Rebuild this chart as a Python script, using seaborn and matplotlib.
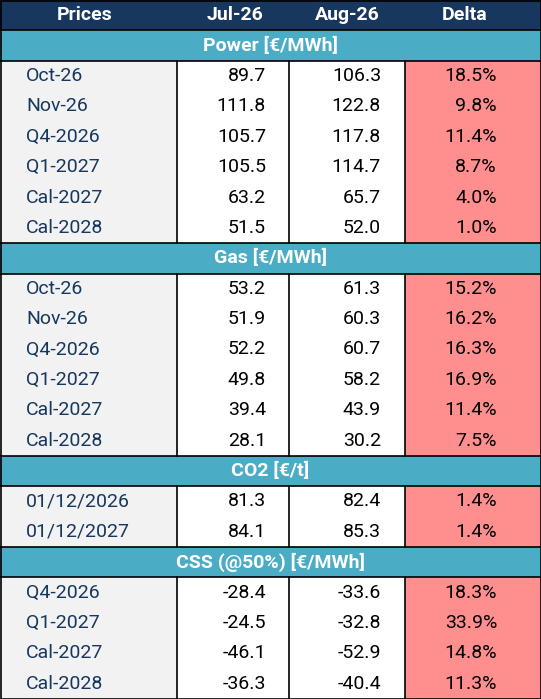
import matplotlib
matplotlib.use("Agg")
import matplotlib.pyplot as plt
import seaborn as sns
from matplotlib.patches import Rectangle

sns.set_theme(style="white")
plt.rcParams['font.family'] = ['Roboto', 'DejaVu Sans']

headers = ["Prices", "Jul-26", "Aug-26", "Delta"]
sections = ["Power [€/MWh]", "Gas [€/MWh]", "CO2 [€/t]", "CSS (@50%) [€/MWh]"]
power_labels = ["Oct-26", "Nov-26", "Q4-2026", "Q1-2027", "Cal-2027", "Cal-2028"]
power_jul = [89.7, 111.8, 105.7, 105.5, 63.2, 51.5]
power_aug = [106.3, 122.8, 117.8, 114.7, 65.7, 52.0]
power_delta = [18.5, 9.8, 11.4, 8.7, 4.0, 1.0]
gas_labels = ["Oct-26", "Nov-26", "Q4-2026", "Q1-2027", "Cal-2027", "Cal-2028"]
gas_jul = [53.2, 51.9, 52.2, 49.8, 39.4, 28.1]
gas_aug = [61.3, 60.3, 60.7, 58.2, 43.9, 30.2]
gas_delta = [15.2, 16.2, 16.3, 16.9, 11.4, 7.5]
co2_labels = ["01/12/2026", "01/12/2027"]
co2_jul = [81.3, 84.1]
co2_aug = [82.4, 85.3]
co2_delta = [1.4, 1.4]
css_labels = ["Q4-2026", "Q1-2027", "Cal-2027", "Cal-2028"]
css_jul = [-28.4, -24.5, -46.1, -36.3]
css_aug = [-33.6, -32.8, -52.9, -40.4]
css_delta = [18.3, 33.9, 14.8, 11.3]

groups = [
    (sections[0], power_labels, power_jul, power_aug, power_delta),
    (sections[1], gas_labels, gas_jul, gas_aug, gas_delta),
    (sections[2], co2_labels, co2_jul, co2_aug, co2_delta),
    (sections[3], css_labels, css_jul, css_aug, css_delta),
]

NAVY = "#17375E"; TEAL = "#4BACC6"; GREY = "#F2F2F2"; PINK = "#FF8F8F"
W, H = 541, 699
cols = [0, 177, 289, 405, 541]
nrows = 1 + len(groups) + sum(len(g[1]) for g in groups)
rh = H / nrows
fs = 14

fig = plt.figure(figsize=(W/100, H/100), dpi=100)
ax = fig.add_axes([0, 0, 1, 1])
ax.set_xlim(0, W); ax.set_ylim(H, 0); ax.axis("off")

def rect(x0, y0, x1, y1, fc):
    ax.add_patch(Rectangle((x0, y0), x1-x0, y1-y0, facecolor=fc, edgecolor="none"))

y = 0
rect(0, 0, W, rh, NAVY)
centers = [85, 235, 347, 465]
for c, h in zip(centers, headers):
    ax.text(c, y + rh/2, h, color="white", fontsize=fs, fontweight="bold", ha="center", va="center")
y += rh
for name, labs, jul, aug, dl in groups:
    ax.plot([0, W], [y, y], color="black", lw=1.2)
    rect(0, y, W, y+rh, TEAL)
    ax.text(W/2, y + rh/2, name, color="white", fontsize=fs, fontweight="bold", ha="center", va="center")
    y += rh
    ax.plot([0, W], [y, y], color="black", lw=1.2)
    y0 = y
    for lab, a, b, d in zip(labs, jul, aug, dl):
        rect(cols[0], y, cols[1], y+rh, GREY)
        rect(cols[1], y, cols[3], y+rh, "white")
        rect(cols[3], y, cols[4], y+rh, PINK)
        ax.text(26, y + rh/2, lab, color=NAVY, fontsize=fs, ha="left", va="center")
        ax.text(266, y + rh/2, f"{a:.1f}", color="black", fontsize=fs, ha="right", va="center")
        ax.text(381, y + rh/2, f"{b:.1f}", color="black", fontsize=fs, ha="right", va="center")
        ax.text(497, y + rh/2, f"{d:.1f}%", color="black", fontsize=fs, ha="right", va="center")
        y += rh
    for cx in cols[1:4]:
        ax.plot([cx, cx], [y0, y], color="black", lw=1.2)
ax.add_patch(Rectangle((0.5, 0.5), W-1, H-1, facecolor="none", edgecolor="black", lw=1.2))
fig.savefig("out.png", dpi=100)
